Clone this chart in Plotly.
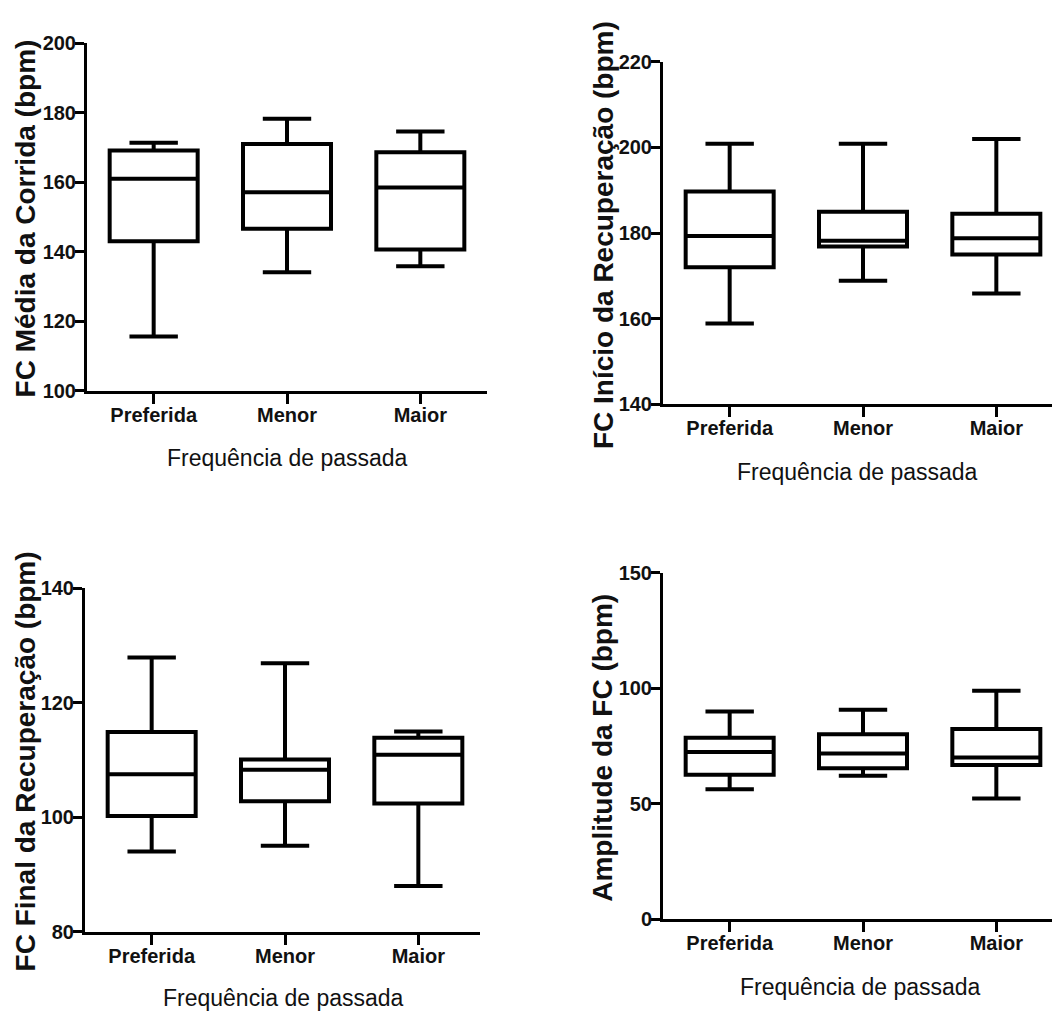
import plotly.graph_objects as go

W, H = 1052, 1021

categories = ["Preferida", "Menor", "Maior"]

# Panel 1: FC Média da Corrida
p1_max = [171.4, 178.3, 174.6]
p1_q3 = [169.1, 171.0, 168.6]
p1_med = [161.0, 157.1, 158.5]
p1_q1 = [143.0, 146.6, 140.6]
p1_min = [115.6, 134.1, 135.8]

# Panel 2: FC Início da Recuperação
p2_max = [200.9, 200.9, 202.0]
p2_q3 = [189.7, 185.0, 184.5]
p2_med = [179.3, 178.2, 178.8]
p2_q1 = [172.0, 176.9, 175.0]
p2_min = [158.9, 168.9, 165.9]

# Panel 3: FC Final da Recuperação
p3_max = [127.9, 126.9, 115.0]
p3_q3 = [114.9, 110.1, 113.9]
p3_med = [107.5, 108.3, 110.9]
p3_q1 = [100.2, 102.8, 102.4]
p3_min = [94.0, 95.0, 88.0]

# Panel 4: Amplitude da FC
p4_max = [89.9, 90.6, 98.8]
p4_q3 = [78.5, 80.0, 82.3]
p4_med = [72.3, 71.7, 69.9]
p4_q1 = [62.5, 65.3, 66.7]
p4_min = [56.2, 62.0, 52.2]

y_titles = [
    "FC Média da Corrida (bpm)",
    "FC Início da Recuperação (bpm)",
    "FC Final da Recuperação (bpm)",
    "Amplitude da FC (bpm)",
]
x_title = "Frequência de passada"
y_ranges = [[100, 200], [140, 220], [80, 140], [0, 150]]
y_dticks = [20, 20, 20, 50]

panels = [
    (p1_min, p1_q1, p1_med, p1_q3, p1_max),
    (p2_min, p2_q1, p2_med, p2_q3, p2_max),
    (p3_min, p3_q1, p3_med, p3_q3, p3_max),
    (p4_min, p4_q1, p4_med, p4_q3, p4_max),
]

# pixel layout: (x_left, x_right, y_top, y_bottom)
px = [
    (87, 487, 33, 388),
    (663, 1052, 52, 402),
    (85, 480, 590, 941),
    (663, 1052, 574, 928),
]
ytitle_pos = [(25, 212), (603, 229), (25, 767), (603, 753)]
xtitle_pos = [(287, 457), (857, 471), (283, 1009), (860, 997)]

font_main = "Liberation Sans, Arial, sans-serif"

fig = go.Figure()
layout = dict(
    width=W, height=H,
    margin=dict(l=0, r=0, t=0, b=0),
    paper_bgcolor="white", plot_bgcolor="white",
    showlegend=False,
)
annotations = []
for i, (lo, q1, med, q3, hi) in enumerate(panels):
    n = "" if i == 0 else str(i + 1)
    xl, xr, yt, yb = px[i]
    span = (xr - xl) / 400.0 * 3.0
    fig.add_trace(go.Box(
        x=categories, lowerfence=lo, q1=q1, median=med, q3=q3, upperfence=hi,
        xaxis="x" + n, yaxis="y" + n,
        width=0.66, whiskerwidth=0.55,
        line=dict(color="black", width=4), fillcolor="white",
        boxpoints=False, hoverinfo="skip",
    ))
    layout["xaxis" + n] = dict(
        domain=[xl / W, min(xr / W, 1.0)],
        anchor="y" + n,
        type="category", range=[-0.5, -0.5 + span],
        showline=True, linecolor="black", linewidth=3,
        ticks="outside", ticklen=10, tickwidth=3, tickcolor="black",
        showgrid=False, zeroline=False, ticklabelstandoff=-6,
        tickfont=dict(family=font_main, size=20, color="#111", weight="bold"),
    )
    layout["yaxis" + n] = dict(
        domain=[1 - yb / H, 1 - yt / H],
        anchor="x" + n,
        range=y_ranges[i], dtick=y_dticks[i], tick0=0,
        showline=True, linecolor="black", linewidth=3,
        ticks="outside", ticklen=9, tickwidth=3, tickcolor="black",
        showgrid=False, zeroline=False, ticklabelstandoff=-5,
        tickfont=dict(family=font_main, size=20, color="#111", weight="bold"),
    )
    ax, ay = ytitle_pos[i]
    annotations.append(dict(
        text=y_titles[i], xref="paper", yref="paper",
        x=ax / W, y=1 - ay / H, xanchor="center", yanchor="middle",
        textangle=-90, showarrow=False,
        font=dict(family=font_main, size=28, color="#111", weight="bold"),
    ))
    tx, ty = xtitle_pos[i]
    annotations.append(dict(
        text=x_title, xref="paper", yref="paper",
        x=tx / W, y=1 - ty / H, xanchor="center", yanchor="middle",
        showarrow=False,
        font=dict(family=font_main, size=23, color="#111"),
    ))

layout["annotations"] = annotations
fig.update_layout(**layout)
fig.write_html("out.html")
